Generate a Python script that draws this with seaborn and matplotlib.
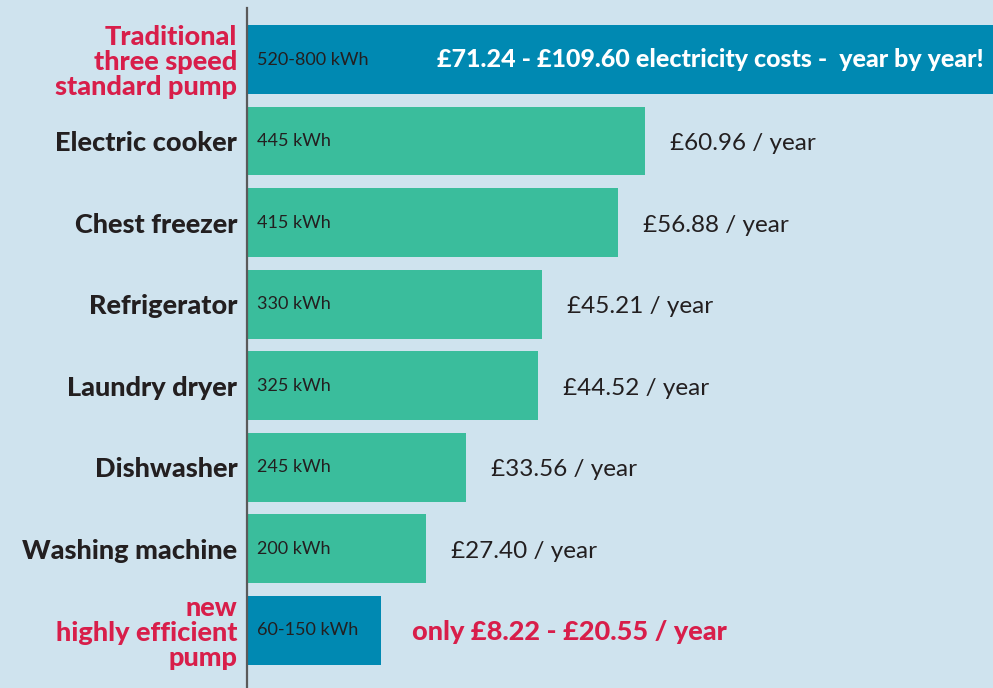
import matplotlib
matplotlib.use("Agg")
import matplotlib.pyplot as plt
import seaborn as sns
import pandas as pd

# data
appliances = ["Traditional\nthree speed\nstandard pump", "Electric cooker", "Chest freezer",
              "Refrigerator", "Laundry dryer", "Dishwasher", "Washing machine",
              "new\nhighly efficient\npump"]
# bar length in kWh (the top bar runs off the right edge of the chart)
kwh = [850, 445, 415, 330, 325, 245, 200, 150]
kwh_labels = ["520-800 kWh", "445 kWh", "415 kWh", "330 kWh", "325 kWh", "245 kWh",
              "200 kWh", "60-150 kWh"]
cost_labels = ["£71.24 - £109.60 electricity costs -  year by year!", "£60.96 / year",
               "£56.88 / year", "£45.21 / year", "£44.52 / year", "£33.56 / year",
               "£27.40 / year", "only £8.22 - £20.55 / year"]

bg = "#cfe3ee"
teal = "#3abd9c"
blue = "#0089b2"
red = "#d81e4a"
dark = "#231f20"
colors = [blue] + [teal] * 6 + [blue]
label_colors = [red] + [dark] * 6 + [red]

df = pd.DataFrame({"appliance": appliances, "kwh": kwh})

sns.set_style("white")
plt.rcParams["font.family"] = ["Lato", "DejaVu Sans"]

fig = plt.figure(figsize=(9.93, 6.88), dpi=100, facecolor=bg)
ax = fig.add_axes([247 / 993, 0, 1 - 247 / 993, 1 - 8 / 688])
ax.set_facecolor(bg)

sns.barplot(data=df, x="kwh", y="appliance", hue="appliance", palette=colors,
            legend=False, width=0.845, saturation=1, linewidth=0, ax=ax)

ax.set_xlim(0, 834)
ax.set_ylim(7.71, -0.632)

for s in ["top", "right", "bottom"]:
    ax.spines[s].set_visible(False)
ax.spines["left"].set_color("#5a5a5a")
ax.spines["left"].set_linewidth(1.6)
ax.set_xticks([])
ax.set_xlabel("")
ax.set_ylabel("")

ax.set_yticks(range(len(appliances)))
ax.set_yticklabels(appliances)
ax.tick_params(axis="y", length=0, pad=7)
for i, t in enumerate(ax.get_yticklabels()):
    t.set_color(label_colors[i])
    t.set_fontweight("black")
    t.set_fontsize(19.5)
    t.set_linespacing(1.05)
    t.set_horizontalalignment("right")

for i, (v, kl, cl) in enumerate(zip(kwh, kwh_labels, cost_labels)):
    ax.annotate(kl, xy=(0, i), xytext=(7, 0), textcoords="offset points",
                va="center", ha="left", fontsize=13, color=dark)
    if i == 0:
        ax.annotate(cl, xy=(834, i), xytext=(-7, 0), textcoords="offset points",
                    va="center", ha="right", fontsize=18, fontweight="black",
                    color="white")
    elif i == len(kwh) - 1:
        ax.annotate(cl, xy=(v, i), xytext=(22, -1), textcoords="offset points",
                    va="center", ha="left", fontsize=19.5, fontweight="black",
                    color=red)
    else:
        ax.annotate(cl, xy=(v, i), xytext=(18, -2), textcoords="offset points",
                    va="center", ha="left", fontsize=17.5, color=dark)

fig.savefig("out.png", dpi=100, facecolor=bg)
